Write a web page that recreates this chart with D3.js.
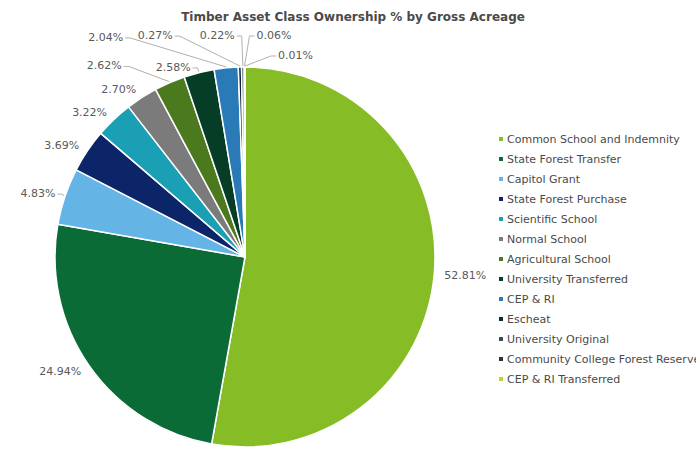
<!DOCTYPE html>
<html>
<head>
<meta charset="utf-8">
<script src="https://cdn.jsdelivr.net/npm/d3@7"></script>
<style>
  html, body { margin: 0; padding: 0; background: #ffffff; }
  svg { display: block; font-family: "DejaVu Sans", Verdana, sans-serif; }
</style>
</head>
<body>
<svg id="chart" width="696" height="450"></svg>
<script>
// ---- data ----
const categories = [
  "Common School and Indemnity",
  "State Forest Transfer",
  "Capitol Grant",
  "State Forest Purchase",
  "Scientific School",
  "Normal School",
  "Agricultural School",
  "University Transferred",
  "CEP & RI",
  "Escheat",
  "University Original",
  "Community College Forest Reserve",
  "CEP & RI Transferred"
];
const values = [52.81, 24.94, 4.83, 3.69, 3.22, 2.70, 2.62, 2.58, 2.04, 0.27, 0.22, 0.06, 0.01];
const valueLabels = ["52.81%", "24.94%", "4.83%", "3.69%", "3.22%", "2.70%", "2.62%", "2.58%", "2.04%", "0.27%", "0.22%", "0.06%", "0.01%"];
const title = "Timber Asset Class Ownership % by Gross Acreage";

// ---- styles ----
const colors = [
  "#86bc25", "#0b6b36", "#64b4e6", "#0c2468", "#1a9fb4", "#7b7b7b",
  "#4b7a1e", "#053d26", "#2b7ab8", "#0d2540", "#3c4a55", "#24383a", "#b9d636"
];

// label layout nudges (annotation placement only, relative to natural label point)
const labelNudge = {
  6:  { dx: -44, dy: -8, connector: true },
  7:  { dx: -6,  dy: 4,  connector: true },
  8:  { dx: -102, dy: -21, connector: true },
  9:  { dx: -67, dy: -22, connector: true },
  10: { dx: -8,  dy: -22, connector: true },
  11: { dx: 12,  dy: -22, anchor: "start", connector: true },
  12: { dx: 33,  dy: -2,  anchor: "start", connector: true },
  2:  { dx: 0, dy: 0, connector: true }
};

const svg = d3.select("#chart");
const cx = 245, cy = 257, r = 190, labelR = 200;

svg.append("text")
  .attr("x", 353).attr("y", 21)
  .attr("text-anchor", "middle")
  .attr("font-size", 12).attr("font-weight", "bold")
  .attr("fill", "#4a4a4a")
  .text(title);

const data = categories.map((c, i) => ({ name: c, value: values[i], label: valueLabels[i], i }));
const pie = d3.pie().value(d => d.value).sort(null);
const arcs = pie(data);
const arc = d3.arc().innerRadius(0).outerRadius(r);

const g = svg.append("g").attr("transform", `translate(${cx},${cy})`);
g.selectAll("path.slice").data(arcs).join("path")
  .attr("class", "slice")
  .attr("d", arc)
  .attr("fill", d => colors[d.index])
  .attr("stroke", "#ffffff")
  .attr("stroke-width", 1.5)
  .attr("stroke-linejoin", "round");

// labels
const lg = g.append("g");
arcs.forEach(a => {
  const mid = (a.startAngle + a.endAngle) / 2;
  const nx = labelR * Math.sin(mid), ny = -labelR * Math.cos(mid);
  const nudge = labelNudge[a.index] || { dx: 0, dy: 0 };
  const anchor = nudge.anchor || (Math.sin(mid) >= 0 ? "start" : "end");
  const lx = nx + nudge.dx, ly = ny + nudge.dy;
  const txt = lg.append("text")
    .attr("x", lx).attr("y", ly)
    .attr("dy", "0.35em")
    .attr("text-anchor", anchor)
    .attr("font-size", 11)
    .attr("fill", "#595959")
    .text(a.data.label);
  if (nudge.connector) {
    const side = anchor === "end" ? 1 : -1;
    const x0 = lx + side * 2, x1 = x0 + side * 5;
    const px = (r + 1) * Math.sin(mid), py = -(r + 1) * Math.cos(mid);
    lg.insert("path", "text")
      .attr("d", `M${x0},${ly + 1}L${x1},${ly + 1}L${px},${py}`)
      .attr("fill", "none")
      .attr("stroke", "#b0b0b0")
      .attr("stroke-width", 1);
  }
});

// legend
const legend = svg.append("g").attr("transform", "translate(501,139)");
const items = legend.selectAll("g").data(data).join("g")
  .attr("transform", (d, i) => `translate(0,${i * 20})`);
items.append("rect")
  .attr("x", -2).attr("y", -2).attr("width", 4).attr("height", 4)
  .attr("fill", d => colors[d.i]);
items.append("text")
  .attr("x", 6).attr("y", 0).attr("dy", "0.35em")
  .attr("font-size", 11)
  .attr("fill", "#4a4a4a")
  .text(d => d.name);
</script>
</body>
</html>
